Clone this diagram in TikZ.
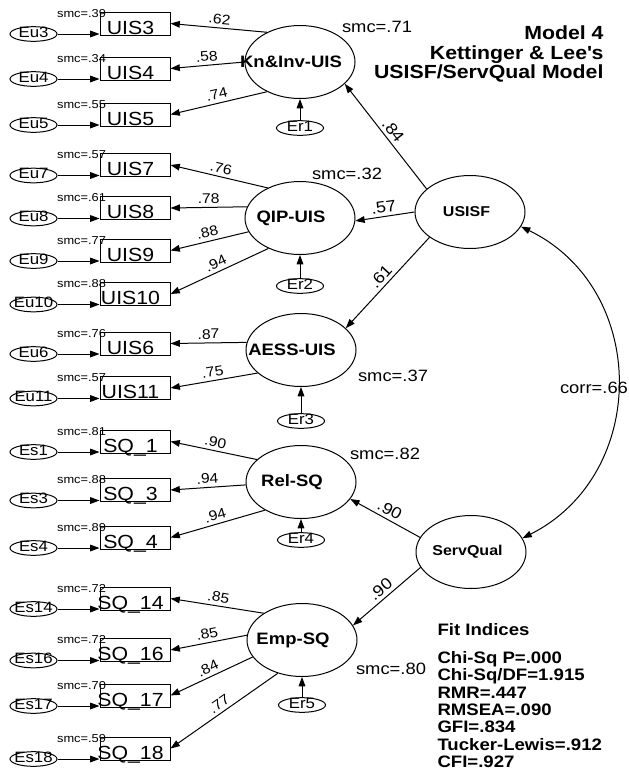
\documentclass[tikz,border=0pt]{standalone}
\usepackage{fontspec}
\setmainfont{Liberation Sans}[FakeStretch=1.12]
\usepackage{tikz}
\usetikzlibrary{arrows.meta,positioning,calc,shapes.geometric}
\tikzset{
  obs/.style={draw,rectangle,minimum width=52.5pt,minimum height=17.25pt,inner sep=0pt,
    text height=15.75pt,text depth=0pt,font=\fontsize{14.25}{16}\selectfont},
  lat/.style={draw,ellipse,minimum width=82.5pt,minimum height=54.75pt,inner sep=0pt,
    font=\bfseries\fontsize{12.4}{14}\selectfont},
  err/.style={draw,ellipse,minimum width=35.25pt,minimum height=11pt,inner sep=0pt,
    text height=5pt,text depth=0pt,font=\fontsize{11.25}{13}\selectfont},
  arr/.style={-{Triangle[length=7pt,width=5pt]}},
  corr/.style={{Triangle[length=7pt,width=5pt]}-{Triangle[length=7pt,width=5pt]}},
  smc/.style={inner sep=0pt,font=\fontsize{8.6}{10}\selectfont},
  bigsmc/.style={inner sep=0pt,font=\fontsize{12.3}{14}\selectfont},
  ld/.style={inner sep=2.5pt,font=\fontsize{10.5}{12}\selectfont},
  sl/.style={inner sep=2.5pt,font=\fontsize{12}{14}\selectfont},
}
\begin{document}
\begin{tikzpicture}[x=0.75pt,y=-0.75pt,line width=0.75pt]
  \useasboundingbox (0,0) rectangle (629,776);
  % latent variables
  \node[lat] (kn) at (300,62) {\makebox[0pt]{Kn\&Inv-UIS\hspace{13.5pt}}};
  \node[lat] (qip) at (300,218) {\makebox[0pt]{QIP-UIS\hspace{13.5pt}}};
  \node[lat] (aess) at (301,350) {\makebox[0pt]{AESS-UIS\hspace{13.5pt}}};
  \node[lat] (rel) at (301,482) {\makebox[0pt]{Rel-SQ\hspace{13.5pt}}};
  \node[lat] (emp) at (302,640) {\makebox[0pt]{Emp-SQ\hspace{13.5pt}}};
  \node[lat,font=\bfseries\fontsize{10.7}{12}\selectfont] (usisf) at (470,212) {\makebox[0pt]{USISF\hspace{5.25pt}}};
  \node[lat,font=\bfseries\fontsize{10.7}{12}\selectfont] (servqual) at (471,552) {\makebox[0pt]{ServQual\hspace{5.25pt}}};
  % residuals
  \foreach \er/\lv/\xx/\yy in {Er1/kn/300/128,Er2/qip/300/286,Er3/aess/301/421,Er4/rel/301/540,Er5/emp/302/705}{
    \node[err] (\er) at (\xx,\yy) {\makebox[0pt]{\er}};
    \draw[arr] (\er) -- (\lv);
  }
  % indicators
  \foreach \nm/\lab/\yy/\er/\sm/\lv/\ang/\wt in {
    uis3/UIS3/23.5/Eu3/.39/kn/138/.62,
    uis4/UIS4/68.5/Eu4/.34/kn/180/.58,
    uis5/UIS5/114.5/Eu5/.55/kn/222/.74,
    uis7/UIS7/165/Eu7/.57/qip/137/.76,
    uis8/UIS8/208/Eu8/.61/qip/168/.78,
    uis9/UIS9/250.5/Eu9/.77/qip/195/.88,
    uis10/UIS10/294/Eu10/.88/qip/224/.94,
    uis6/UIS6/343.5/Eu6/.76/aess/172/.87,
    uis11/UIS11/388/Eu11/.57/aess/208/.75,
    sq1/SQ\_1/441.5/Es1/.81/rel/153/.90,
    sq3/SQ\_3/490/Es3/.88/rel/183/.94,
    sq4/SQ\_4/537.5/Es4/.89/rel/218/.94,
    sq14/SQ\_14/598.5/Es14/.72/emp/145/.85,
    sq16/SQ\_16/650/Es16/.72/emp/175/.85,
    sq17/SQ\_17/695.5/Es17/.70/emp/199/.84,
    sq18/SQ\_18/748.5/Es18/.59/emp/234/.77}{
    \node[obs] (\nm) at (135,\yy) {\makebox[0pt]{\lab\hspace{6.75pt}}};
    \node[smc,anchor=east] (smc\nm) at ([shift={(7,2)}]\nm.north west) {smc=\sm};
    \node[err] (\er) at (33.5,\yy+10.5) {\makebox[0pt]{\er}};
    \draw[arr] (\er) -- (\er -| \nm.west);
    \draw[arr] (\lv.\ang) -- (\nm.east) node[ld,midway,above,sloped] {\wt};
  }
  % structural paths
  \draw[arr] (usisf.152) -- (kn.334) node[sl,midway,above,sloped] {.84};
  \draw[arr] (usisf.180) -- (qip.-3) node[sl,midway,above,sloped] {.57};
  \draw[arr] (usisf.212) -- (aess.26) node[sl,midway,above,sloped] {.61};
  \draw[arr] (servqual.164) -- (rel.-19) node[sl,midway,above,sloped] {.90};
  \draw[arr] (servqual.197) -- (emp.16) node[sl,midway,above,sloped] {.90};
  \draw[corr] (usisf.-16) .. controls +(128,62) and +(127,-64) .. (servqual.15);
  % squared multiple correlations
  \node[bigsmc] (smckn) at (377,27) {smc=.71};
  \node[bigsmc] (smcqip) at (347,174) {smc=.32};
  \node[bigsmc] (smcaess) at (393,376) {smc=.37};
  \node[bigsmc] (smcrel) at (385,454) {smc=.82};
  \node[bigsmc] (smcemp) at (391,669) {smc=.80};
  \node[bigsmc] (corrlab) at (594,388) {corr=.66};
  % title and fit
  \node[inner sep=0pt,anchor=north east,align=right,font=\bfseries\fontsize{14.25}{14.6}\selectfont]
    (title) at (604,25.7) {Model 4\\Kettinger \& Lee\textquotesingle s\\USISF/ServQual Model};
  \node[inner sep=0pt,anchor=north west,align=left,font=\bfseries\fontsize{12.45}{13}\selectfont]
    (fit) at (437,623) {Fit Indices\\[8pt]Chi-Sq P=.000\\Chi-Sq/DF=1.915\\RMR=.447\\RMSEA=.090\\GFI=.834\\Tucker-Lewis=.912\\CFI=.927};
\end{tikzpicture}
\end{document}
